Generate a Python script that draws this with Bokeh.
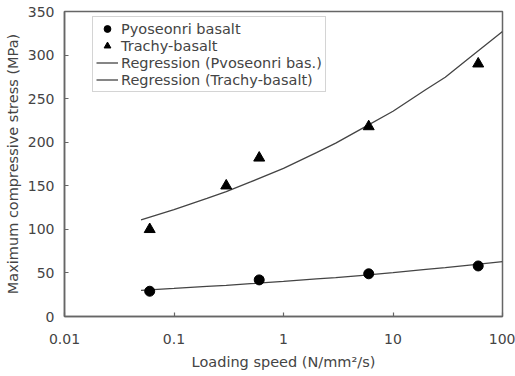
from bokeh.plotting import figure
from bokeh.models import Range1d, FixedTicker, Legend, LegendItem
from bokeh.embed import file_html
from bokeh.resources import INLINE

# Measured data
speed = [0.06, 0.6, 6, 60]
pyoseonri = [29, 42, 49, 58]
trachy_speed = [0.06, 0.3, 0.6, 6, 60]
trachy = [100, 150, 182, 218, 290]

# Regression curves
reg_speed = [0.05, 0.1, 0.2, 0.3, 0.5, 1, 2, 3, 5, 10, 20, 30, 50, 100]
reg_pyoseonri = [30, 32.2, 34.5, 35.8, 37.7, 40.2, 43.1, 44.7, 47.0, 50.3, 54.0, 56.0, 59.0, 63]
reg_trachy = [111, 122.6, 135.5, 143.4, 154.4, 170, 188, 199, 214.5, 235.5, 260.5, 274.5, 297, 327]

x_ticks = [0.01, 0.1, 1, 10, 100]
x_tick_labels = ["0.01", "0.1", "1", "10", "100"]
y_ticks = [0, 50, 100, 150, 200, 250, 300, 350]

FONT = "DejaVu Sans"
TXT = "#444444"
AX = "#666666"

p = figure(width=515, height=376, x_axis_type="log",
           x_range=Range1d(0.01, 100), y_range=Range1d(0, 350),
           output_backend="svg", toolbar_location=None,
           min_border_left=64, min_border_right=13, min_border_top=11, min_border_bottom=60)
p.grid.visible = False
p.outline_line_color = AX
p.outline_line_width = 1.5
p.background_fill_color = "white"
p.border_fill_color = "white"

for ax in (p.xaxis[0], p.yaxis[0]):
    ax.axis_line_color = AX
    ax.axis_line_width = 1.5
    ax.major_tick_in = 4
    ax.major_tick_out = 0
    ax.major_tick_line_color = AX
    ax.major_tick_line_width = 1.2
    ax.minor_tick_line_color = None
    ax.major_label_text_font = FONT
    ax.major_label_text_font_size = "14px"
    ax.major_label_text_color = TXT
    ax.axis_label_text_font = FONT
    ax.axis_label_text_font_size = "14.5px"
    ax.axis_label_text_color = TXT
    ax.axis_label_text_font_style = "normal"

p.xaxis.major_label_standoff = 17
p.yaxis.major_label_standoff = 10
p.xaxis.ticker = FixedTicker(ticks=x_ticks)
p.xaxis.major_label_overrides = {t: l for t, l in zip(x_ticks, x_tick_labels)}
p.yaxis.ticker = FixedTicker(ticks=y_ticks)
p.xaxis.axis_label = "Loading speed (N/mm\u00b2/s)"
p.yaxis.axis_label = "Maximum compressive stress (MPa)"
p.xaxis.axis_label_standoff = 7
p.yaxis.axis_label_standoff = 4

LINE = "#444444"
r3 = p.line(reg_speed, reg_pyoseonri, line_color=LINE, line_width=1.3)
r4 = p.line(reg_speed, reg_trachy, line_color=LINE, line_width=1.3)
r1 = p.scatter(speed, pyoseonri, marker="circle", size=10, fill_color="black", line_color="black")
r2 = p.scatter(trachy_speed, trachy, marker="triangle", size=11, fill_color="black", line_color="black")

legend = Legend(items=[
    LegendItem(label="Pyoseonri basalt", renderers=[r1]),
    LegendItem(label="Trachy-basalt", renderers=[r2]),
    LegendItem(label="Regression (Pvoseonri bas.)", renderers=[r3]),
    LegendItem(label="Regression (Trachy-basalt)", renderers=[r4]),
], location=(28, 224))
legend.label_text_font = FONT
legend.label_text_font_size = "14.5px"
legend.label_text_color = TXT
legend.label_height = 17
legend.glyph_height = 17
legend.glyph_width = 22
legend.label_standoff = 3
legend.spacing = 0
legend.padding = 3
legend.margin = 0
legend.border_line_color = "#aaaaaa"
legend.border_line_width = 1
legend.background_fill_alpha = 1
p.add_layout(legend, "center")

open("out.html", "w").write(file_html(p, INLINE))
